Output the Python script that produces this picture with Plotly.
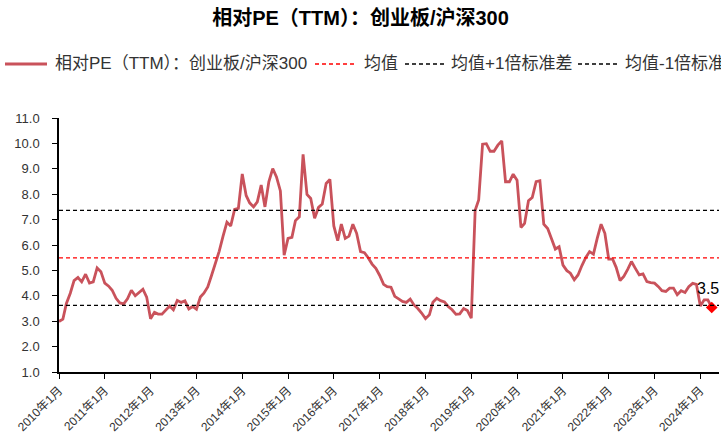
import plotly.graph_objects as go
import pandas as pd

# ---------------- data ----------------
start_month = "2010-01-01"
rel_pe = [
    2.99, 3.08, 3.70, 4.10, 4.60, 4.72, 4.55, 4.85, 4.50, 4.55, 5.10, 4.95,
    4.50, 4.38, 4.22, 3.90, 3.72, 3.68, 3.88, 4.22, 4.00, 4.12, 4.26, 3.95,
    3.10, 3.35, 3.28, 3.28, 3.42, 3.60, 3.45, 3.82, 3.74, 3.80, 3.48, 3.58,
    3.47, 3.95, 4.10, 4.35, 4.80, 5.25, 5.75, 6.35, 6.90, 6.75, 7.40, 7.44,
    8.80, 7.95, 7.66, 7.50, 7.70, 8.36, 7.50, 8.49, 9.01, 8.68, 8.13, 5.60,
    6.26, 6.30, 6.96, 7.11, 9.57, 7.99, 7.83, 7.05, 7.48, 7.61, 8.42, 8.58,
    6.75, 6.17, 6.82, 6.26, 6.35, 6.82, 6.46, 5.74, 5.70, 5.50, 5.25, 5.08,
    4.80, 4.45, 4.36, 4.34, 3.98, 3.88, 3.78, 3.74, 3.87, 3.64, 3.50, 3.32,
    3.10, 3.25, 3.75, 3.90, 3.81, 3.76, 3.58, 3.45, 3.27, 3.29, 3.50, 3.42,
    3.12, 7.37, 7.77, 9.97, 9.99, 9.69, 9.69, 9.93, 10.10, 8.49, 8.49, 8.79,
    8.55, 6.69, 6.85, 7.74, 7.87, 8.49, 8.53, 6.82, 6.65, 6.26, 5.84, 5.93,
    5.21, 4.99, 4.89, 4.63, 4.82, 5.19, 5.50, 5.74, 5.64, 6.26, 6.82, 6.46,
    5.44, 5.44, 5.12, 4.60, 4.76, 5.04, 5.35, 5.08, 4.82, 4.86, 4.56, 4.52,
    4.50, 4.36, 4.20, 4.17, 4.30, 4.30, 4.04, 4.20, 4.13, 4.36, 4.49, 4.45,
    3.60, 3.84, 3.84, 3.54,
]
dates = pd.date_range(start_month, periods=len(rel_pe), freq="MS")

mean_val = 5.49
plus1_val = 7.36
minus1_val = 3.62

tick_years = list(range(2010, 2025))
tick_vals = [f"{y}-01-01" for y in tick_years]
tick_text = [f"{y}年1月" for y in tick_years]

series_name = "相对PE（TTM）：创业板/沪深300"
mean_name = "均值"
plus_name = "均值+1倍标准差"
minus_name = "均值-1倍标准差"
title_text = "相对PE（TTM）：创业板/沪深300"

# ---------------- style ----------------
FONT = "Liberation Sans, Arial, Noto Sans CJK SC, sans-serif"
LINE_COLOR = "#C9525B"
W, H = 721, 436
ML, MR, MT, MB = 59, 2, 118, 64
PW, PH = W - ML - MR, H - MT - MB


def px_x(px):
    return (px - ML) / PW


def px_y(py):
    return (H - MB - py) / PH


fig = go.Figure()
fig.add_trace(go.Scatter(
    x=dates, y=rel_pe, mode="lines",
    line=dict(color=LINE_COLOR, width=2.8),
    showlegend=False, hoverinfo="skip",
))
fig.add_trace(go.Scatter(
    x=[dates[-1]], y=[rel_pe[-1]], mode="markers",
    marker=dict(symbol="diamond", color="#FF0000", size=9),
    showlegend=False, hoverinfo="skip",
))

for val, col in [(mean_val, "#FF0000"), (plus1_val, "#000000"), (minus1_val, "#000000")]:
    fig.add_hline(y=val, line=dict(color=col, width=1.3, dash="4px,3px"))

fig.add_annotation(
    x=dates[-1], y=rel_pe[-1], text=f"{rel_pe[-1]:.1f}", showarrow=False,
    xanchor="right", xshift=9, yshift=19,
    font=dict(family=FONT, size=16, color="#000000"),
)

# manual legend (cut off at the right like the reference)
leg_y = px_y(64)
legend_items = [
    (5, 47, LINE_COLOR, "solid", 3, 53, series_name),
    (315, 355, "#FF0000", "4px,3px", 1.3, 362, mean_name),
    (405, 444, "#000000", "4px,3px", 1.3, 449, plus_name),
    (578, 617, "#000000", "4px,3px", 1.3, 623, minus_name),
]
for x0, x1, col, dash, wd, tx, label in legend_items:
    fig.add_shape(type="line", xref="paper", yref="paper",
                  x0=px_x(x0), x1=px_x(x1), y0=leg_y, y1=leg_y,
                  line=dict(color=col, width=wd, dash=dash))
    fig.add_annotation(xref="paper", yref="paper", x=px_x(tx), y=leg_y,
                       xanchor="left", yanchor="middle", showarrow=False,
                       text=label, font=dict(family=FONT, size=17, color="#333333"))

fig.update_layout(
    width=W, height=H,
    margin=dict(l=ML, r=MR, t=MT, b=MB, autoexpand=False),
    paper_bgcolor="white", plot_bgcolor="white",
    font=dict(family=FONT, color="#333333"),
    title=dict(text=f"<b>{title_text}</b>", x=0.5, xanchor="center",
               y=1 - 18 / H, yanchor="middle",
               font=dict(family=FONT, size=20, color="#000000")),
    showlegend=False,
)
fig.update_xaxes(
    type="date", range=["2010-01-01", "2024-05-29"], automargin=False,
    tickvals=tick_vals, ticktext=tick_text, tickangle=-45,
    tickfont=dict(family=FONT, size=12, color="#333333"),
    showgrid=False, zeroline=False,
    showline=True, linecolor="#000000", linewidth=1.5,
    ticks="outside", ticklen=5, tickcolor="#000000", tickwidth=1.2,
)
fig.update_yaxes(
    range=[1, 11], dtick=1, tick0=1, tickformat=".1f", automargin=False,
    tickfont=dict(family=FONT, size=13, color="#333333"),
    ticklabelstandoff=10,
    showgrid=False, zeroline=False,
    showline=True, linecolor="#000000", linewidth=1.5,
    ticks="outside", ticklen=5, tickcolor="#000000", tickwidth=1.2,
)

fig.write_html(
    "out.html",
    config={"displayModeBar": False},
    post_script="document.body.style.margin='0';document.body.style.overflow='hidden';",
)
